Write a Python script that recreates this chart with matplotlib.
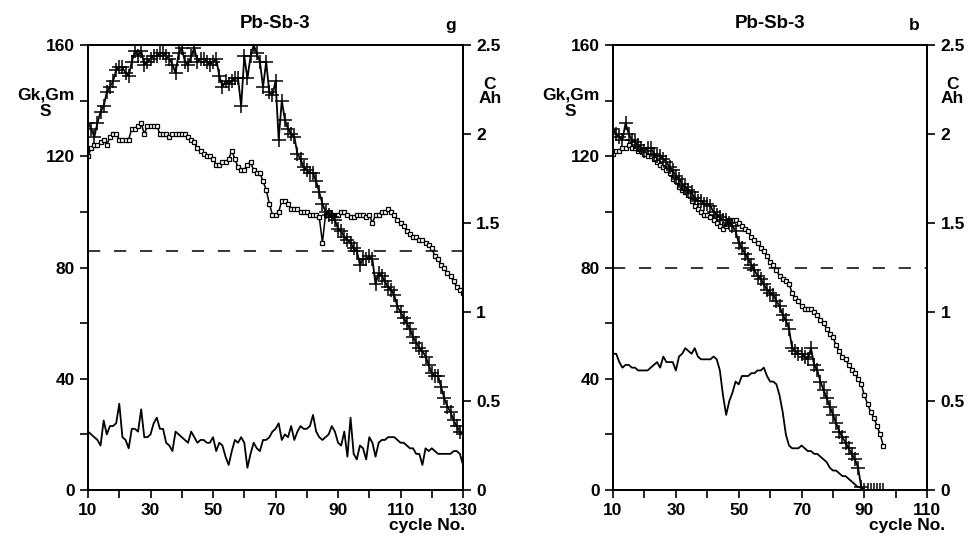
import matplotlib.pyplot as plt
import numpy as np

plt.rcParams['font.family'] = ['Liberation Sans', 'DejaVu Sans']
plt.rcParams['font.weight'] = 'bold'

# ---- panel g (cycles 10..130)
g_plus = [132, 130, 127, 132, 136, 138, 143, 145, 147, 151,
          152, 152, 150, 149, 154, 158, 156, 158, 153, 154,
          155, 156, 156, 157, 157, 156, 155, 153, 150, 157,
          159, 154, 153, 156, 159, 154, 155, 155, 154, 153,
          154, 155, 149, 145, 147, 146, 147, 148, 148, 138,
          156, 148, 156, 160, 157, 154, 145, 154, 143, 142,
          147, 126, 140, 133, 130, 128, 127, 121, 119, 116,
          115, 114, 114, 111, 107, 103, 100, 99, 98, 97,
          94, 93, 91, 90, 89, 87, 86, 81, 83, 83,
          84, 83, 74, 78, 77, 75, 73, 72, 70, 66,
          64, 62, 60, 58, 55, 53, 51, 50, 48, 45,
          42, 41, 41, 37, 33, 30, 28, 25, 23, 21,
          20]
g_square = [120, 123, 124, 124, 125, 126, 124, 127, 128, 128,
            126, 126, 126, 126, 130, 130, 131, 132, 128, 131,
            131, 131, 131, 128, 128, 128, 127, 128, 128, 128,
            128, 128, 127, 126, 125, 123, 122, 121, 120, 120,
            119, 117, 117, 118, 118, 119, 122, 119, 116, 115,
            115, 117, 118, 115, 114, 114, 111, 108, 103, 99,
            99, 100, 104, 104, 103, 101, 101, 101, 100, 100,
            100, 99, 99, 99, 98, 89, 99, 100, 99, 99,
            99, 100, 100, 99, 98, 98, 99, 99, 99, 98,
            99, 96, 99, 99, 100, 100, 101, 100, 99, 97,
            96, 95, 93, 92, 91, 91, 90, 90, 89, 88,
            87, 84, 83, 81, 80, 78, 77, 75, 73, 72,
            71]
g_line = [21, 20, 19, 18, 16, 25, 20, 23, 23, 24,
          31, 19, 18, 15, 22, 22, 21, 29, 19, 19,
          20, 24, 26, 22, 22, 17, 16, 14, 21, 20,
          19, 18, 17, 21, 19, 17, 18, 18, 17, 17,
          19, 14, 17, 16, 12, 9, 14, 18, 17, 19,
          17, 8, 13, 17, 15, 14, 18, 18, 19, 21,
          22, 24, 18, 20, 19, 23, 18, 21, 23, 22,
          22, 23, 27, 21, 19, 18, 19, 20, 23, 21,
          17, 16, 21, 12, 26, 13, 11, 16, 15, 11,
          19, 17, 12, 17, 18, 18, 19, 19, 19, 18,
          17, 17, 16, 15, 15, 13, 13, 9, 15, 14,
          15, 14, 13, 13, 13, 13, 13, 14, 14, 13,
          9]
g_dash = 86

# ---- panel b (cycles 10..96)
b_plus = [130, 128, 127, 126, 132, 128, 126, 125, 124, 123,
          122, 123, 123, 121, 120, 120, 119, 118, 116, 115,
          113, 112, 110, 109, 108, 107, 105, 104, 104, 103,
          103, 102, 100, 99, 98, 97, 97, 96, 95, 93,
          89, 87, 85, 83, 81, 79, 77, 76, 74, 72,
          71, 70, 68, 66, 63, 61, 58, 51, 50, 49,
          49, 48, 47, 51, 45, 43, 39, 36, 33, 30,
          27, 24, 21, 19, 17, 15, 13, 11, 8, 1,
          0, 0, 0, 0, 0, 0, 0]
b_square = [121, 122, 122, 123, 123, 124, 123, 123, 122, 122,
            121, 120, 120, 119, 118, 117, 116, 115, 114, 112,
            111, 109, 108, 107, 106, 104, 102, 101, 100, 99,
            99, 98, 97, 96, 95, 94, 95, 97, 97, 97,
            96, 95, 94, 93, 91, 90, 89, 87, 86, 84,
            82, 81, 79, 77, 76, 75, 74, 71, 69, 68,
            66, 65, 65, 65, 64, 63, 61, 60, 58, 56,
            55, 52, 50, 48, 47, 45, 43, 42, 40, 38,
            34, 31, 28, 26, 23, 20, 16]
b_line = [49, 49, 46, 44, 45, 45, 44, 44, 43, 43,
          43, 43, 44, 45, 46, 44, 48, 46, 46, 46,
          43, 48, 49, 51, 50, 49, 51, 48, 47, 47,
          47, 47, 48, 47, 43, 34, 27, 32, 35, 39,
          38, 41, 41, 41, 42, 42, 43, 43, 44, 41,
          39, 39, 38, 34, 28, 20, 16, 15, 15, 15,
          16, 15, 14, 14, 13, 13, 12, 11, 10, 8,
          7, 7, 6, 5, 5, 4, 3, 2, 1, 1,
          0]
b_dash = 80

fig = plt.figure(figsize=(9.74, 5.38), dpi=100)


def panel(rect, xmax, plus, square, line, dash, tag, ylab_x, clab_x, xlab_x):
    ax = fig.add_axes(rect)
    c_plus = np.arange(10, 10 + len(plus))
    c_sq = np.arange(10, 10 + len(square))
    c_line = np.arange(10, 10 + len(line))
    ax.plot(c_line, line, 'k-', lw=1.3)
    ax.plot(c_sq, square, 'k-', lw=1.1, marker='s', ms=3.2, mfc='white', mec='k', mew=0.9)
    ax.plot(c_plus, plus, 'k-', lw=1.3, marker='+', ms=10, mew=1.1)
    ax.axhline(dash, color='k', lw=1.1, ls=(0, (8, 9)))
    ax.set_xlim(10, xmax)
    ax.set_ylim(0, 160)
    ax.set_xticks(np.arange(10, xmax + 1, 20))
    ax.set_xticks(np.arange(10, xmax + 1, 10), minor=True)
    ax.set_yticks([0, 40, 80, 120, 160])
    ax.set_yticks(np.arange(0, 161, 20), minor=True)
    ax.tick_params(direction='out', length=6, width=1.2, labelsize=12.5)
    ax.tick_params(which='minor', direction='out', length=6, width=1.2)
    for s in ax.spines.values():
        s.set_linewidth(1.4)
    ax2 = ax.twinx()
    ax2.set_ylim(0, 2.5)
    ax2.set_yticks([0, 0.5, 1, 1.5, 2, 2.5])
    ax2.set_yticklabels(['0', '0.5', '1', '1.5', '2', '2.5'])
    ax2.tick_params(direction='out', length=6, width=1.2, labelsize=12.5)
    for s in ax2.spines.values():
        s.set_linewidth(1.4)
    ax.set_title('Pb-Sb-3', fontsize=13.5, fontweight='bold', pad=12)
    fig.text(rect[0] + rect[2] - 0.013, 0.945, tag, fontsize=12.5, fontweight='bold', ha='center')
    fig.text(ylab_x, 0.808, 'Gk,Gm\nS', fontsize=12.5, fontweight='bold', ha='center',
             va='center', linespacing=1.05)
    fig.text(clab_x, 0.83, 'C\nAh', fontsize=12.5, fontweight='bold', ha='center',
             va='center', linespacing=0.95)
    fig.text(xlab_x, 0.01, 'cycle No.', fontsize=12.5, fontweight='bold', ha='right', va='bottom')
    return ax


panel([0.0904, 0.0892, 0.385, 0.827], 130, g_plus, g_square, g_line, g_dash, 'g',
      0.047, 0.503, 0.478)
panel([0.6294, 0.0892, 0.3226, 0.827], 110, b_plus, b_square, b_line, b_dash, 'b',
      0.586, 0.978, 0.970)

fig.savefig('out.png', dpi=100)
